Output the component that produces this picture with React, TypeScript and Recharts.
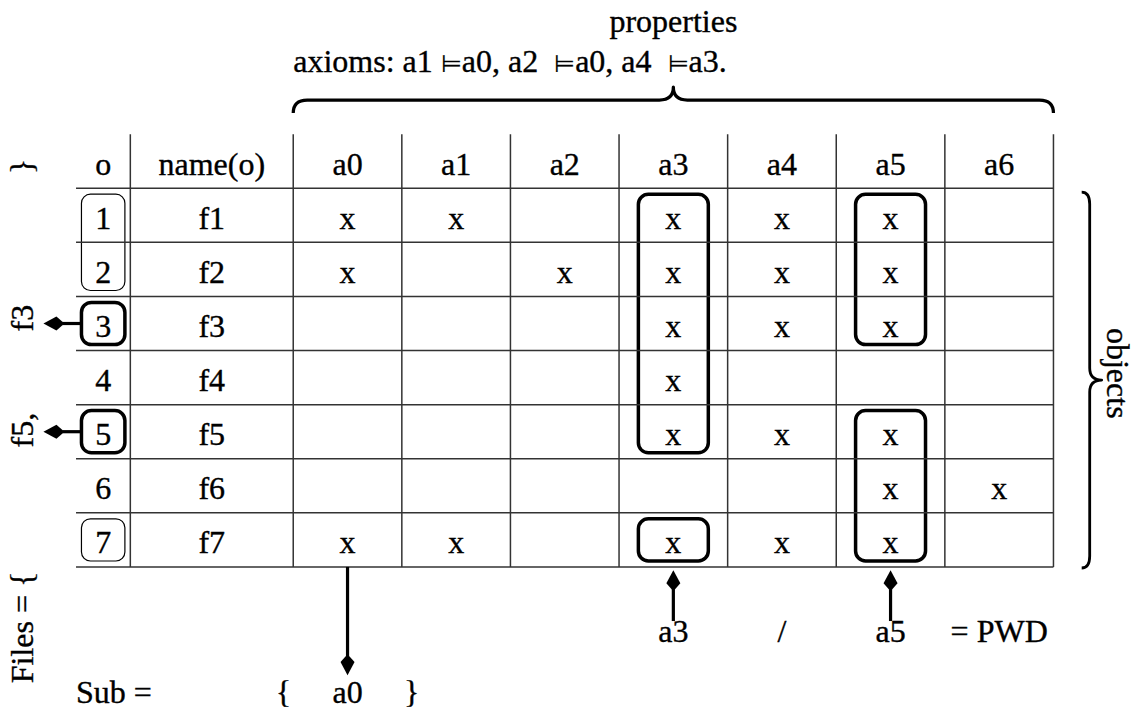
import React from 'react';
import { ScatterChart, Scatter, XAxis, YAxis, ReferenceLine, ReferenceArea } from 'recharts';

// Table content
const attributes = ['a0', 'a1', 'a2', 'a3', 'a4', 'a5', 'a6'];
const objectIds = ['1', '2', '3', '4', '5', '6', '7'];
const objectNames = ['f1', 'f2', 'f3', 'f4', 'f5', 'f6', 'f7'];
const headers = ['o', 'name(o)'];

// attributes held by each object (row order)
const incidence = [
  ['a0', 'a1', 'a3', 'a4', 'a5'],
  ['a0', 'a2', 'a3', 'a4', 'a5'],
  ['a3', 'a4', 'a5'],
  ['a3'],
  ['a3', 'a4', 'a5'],
  ['a5', 'a6'],
  ['a0', 'a1', 'a3', 'a4', 'a5'],
];

// rounded boxes
const objectGroups = [
  { from: 1, to: 2, bold: false },
  { from: 3, to: 3, bold: true },
  { from: 5, to: 5, bold: true },
  { from: 7, to: 7, bold: false },
];
const attributeGroups = [
  { attr: 'a3', from: 1, to: 5 },
  { attr: 'a3', from: 7, to: 7 },
  { attr: 'a5', from: 1, to: 3 },
  { attr: 'a5', from: 5, to: 7 },
];

// arrows
const pickedObjects = [3, 5];
const pwdAttributes = ['a3', 'a5'];
const subAttributes = ['a0'];

// free text around the table (x in column units, y in row units, baseline)
const annotations = [
  { text: 'properties', x: 5.5, y: -1.885, anchor: 'middle', rotate: 0 },
  { text: 'axioms: a1 \u22A8a0, a2 \u00A0\u22A8a0, a4 \u00A0\u22A8a3.', x: 2, y: -1.146, anchor: 'start', rotate: 0 },
  { text: 'objects', x: 9.49, y: 4.42, anchor: 'middle', rotate: 90 },
  { text: '}', x: -0.396, y: 0.6, anchor: 'middle', rotate: -90 },
  { text: 'f3', x: -0.396, y: 3.4, anchor: 'middle', rotate: -90 },
  { text: 'f5,', x: -0.396, y: 5.47, anchor: 'middle', rotate: -90 },
  { text: 'Files = {', x: -0.396, y: 9.12, anchor: 'middle', rotate: -90 },
  { text: 'a3', x: 5.5, y: 9.385, anchor: 'middle', rotate: 0 },
  { text: '/', x: 6.5, y: 9.385, anchor: 'middle', rotate: 0 },
  { text: 'a5', x: 7.5, y: 9.385, anchor: 'middle', rotate: 0 },
  { text: '= PWD', x: 8.5, y: 9.385, anchor: 'middle', rotate: 0 },
  { text: 'Sub =', x: 0, y: 10.52, anchor: 'start', rotate: 0 },
  { text: '{', x: 1.91, y: 10.52, anchor: 'middle', rotate: 0 },
  { text: 'a0', x: 2.5, y: 10.52, anchor: 'middle', rotate: 0 },
  { text: '}', x: 3.09, y: 10.52, anchor: 'middle', rotate: 0 },
];

const FONT = 'Liberation Serif, Times New Roman, Times, serif';
const FONT_SIZE = 32;
const GRID = '#333';

const colOf = (a: string) => 2.5 + attributes.indexOf(a);

const cells = [
  ...headers.map((h, i) => ({ x: i === 0 ? 0.25 : 1.25, y: 0.5, label: h })),
  ...attributes.map((a, i) => ({ x: 2.5 + i, y: 0.5, label: a })),
  ...objectIds.map((id, r) => ({ x: 0.25, y: r + 1.5, label: id })),
  ...objectNames.map((n, r) => ({ x: 1.25, y: r + 1.5, label: n })),
  ...incidence.flatMap((row, r) => row.map((a) => ({ x: colOf(a), y: r + 1.5, label: 'x' }))),
];

const rowLines = [1, 2, 3, 4, 5, 6, 7, 8];
const colLines = [0.5, 2, 3, 4, 5, 6, 7, 8, 9];

const textStyle = {
  fontSize: FONT_SIZE,
  fontFamily: FONT,
  fill: '#000',
  stroke: '#000',
  strokeWidth: 0.35,
};

const CellText = (props: any) => {
  const { cx, cy, payload } = props;
  return (
    <text x={cx} y={cy + 13.5} textAnchor="middle" {...textStyle}>
      {payload.label}
    </text>
  );
};

// the "models" symbol comes from a fallback font and is too wide, so shrink it
const withSmallSymbols = (s: string) =>
  s.split(/(\u22A8)/).map((part, i) =>
    part === '\u22A8' ? (
      <tspan key={i} fontSize={24} strokeWidth={0.2}>
        {part}
      </tspan>
    ) : (
      <tspan key={i}>{part}</tspan>
    ),
  );

const NoteText = (props: any) => {
  const { cx, cy, payload } = props;
  return (
    <text transform={`translate(${cx},${cy}) rotate(${payload.rotate})`} textAnchor={payload.anchor} {...textStyle}>
      {withSmallSymbols(payload.text)}
    </text>
  );
};

const roundBox = (width: number, radius: number) => (p: any) => (
  <rect x={p.x} y={p.y} width={p.width} height={p.height} rx={radius} ry={radius} fill="none" stroke="#000" strokeWidth={width} />
);

const Arrow = (p: any) => {
  const { x1, y1, x2, y2 } = p;
  const len = Math.hypot(x2 - x1, y2 - y1);
  const ux = (x2 - x1) / len;
  const uy = (y2 - y1) / len;
  const nx = -uy;
  const ny = ux;
  const L = 21;
  const W = 7;
  const bx = x2 - ux * L;
  const by = y2 - uy * L;
  const mx = x2 - ux * L * 0.62;
  const my = y2 - uy * L * 0.62;
  return (
    <g>
      <line x1={x1} y1={y1} x2={bx + ux * 2} y2={by + uy * 2} stroke="#000" strokeWidth={3.2} />
      <polygon
        points={`${x2},${y2} ${mx + nx * W},${my + ny * W} ${bx},${by} ${mx - nx * W},${my - ny * W}`}
        fill="#000"
      />
    </g>
  );
};

const brace = (spine: number, depth: number, hook: number, width: number) => (p: any) => {
  const { x1, y1, x2, y2 } = p;
  const len = Math.hypot(x2 - x1, y2 - y1);
  const ux = (x2 - x1) / len;
  const uy = (y2 - y1) / len;
  const nx = uy;
  const ny = -ux;
  const P = (t: number, o: number) => `${x1 + ux * t + nx * o},${y1 + uy * t + ny * o}`;
  const m = len / 2;
  const d = [
    `M${P(0, 0)}`,
    `Q${P(0, spine)} ${P(hook, spine)}`,
    `L${P(m - hook, spine)}`,
    `Q${P(m, spine)} ${P(m, depth)}`,
    `Q${P(m, spine)} ${P(m + hook, spine)}`,
    `L${P(len - hook, spine)}`,
    `Q${P(len, spine)} ${P(len, 0)}`,
  ].join(' ');
  return <path d={d} fill="none" stroke="#000" strokeWidth={width} strokeLinejoin="round" />;
};

export default function App() {
  return (
    <div style={{ width: 1136, height: 713, overflow: 'hidden', background: '#fff' }}>
      <style>{'body{margin:0;overflow:hidden;background:#fff}'}</style>
      <ScatterChart width={1136} height={713} margin={{ top: 0, right: 0, bottom: 0, left: 0 }}>
        <XAxis type="number" dataKey="x" domain={[-0.7, 9.76]} hide allowDataOverflow />
        <YAxis type="number" dataKey="y" domain={[-2.48, 10.7]} reversed hide allowDataOverflow />

        {rowLines.map((r) => (
          <ReferenceLine key={`h${r}`} segment={[{ x: 0, y: r }, { x: 9, y: r }]} stroke={GRID} strokeWidth={1.5} />
        ))}
        {colLines.map((c) => (
          <ReferenceLine key={`v${c}`} segment={[{ x: c, y: 0 }, { x: c, y: 8 }]} stroke={GRID} strokeWidth={1.5} />
        ))}

        {objectGroups.map((g) => (
          <ReferenceArea
            key={`og${g.from}`}
            x1={0.05}
            x2={0.45}
            y1={g.from + 0.11}
            y2={g.to + 0.89}
            shape={g.bold ? roundBox(3.5, 10) : roundBox(1.2, 9)}
          />
        ))}
        {attributeGroups.map((g) => (
          <ReferenceArea
            key={`ag${g.attr}${g.from}`}
            x1={colOf(g.attr) - 0.322}
            x2={colOf(g.attr) + 0.322}
            y1={g.from + 0.11}
            y2={g.to + 0.89}
            shape={roundBox(3.5, 10)}
          />
        ))}

        {pickedObjects.map((r) => (
          <ReferenceLine key={`po${r}`} segment={[{ x: 0.05, y: r + 0.5 }, { x: -0.3, y: r + 0.5 }]} shape={Arrow} />
        ))}
        {pwdAttributes.map((a) => (
          <ReferenceLine key={`pa${a}`} segment={[{ x: colOf(a), y: 9.0 }, { x: colOf(a), y: 8.06 }]} shape={Arrow} />
        ))}
        {subAttributes.map((a) => (
          <ReferenceLine key={`sa${a}`} segment={[{ x: colOf(a), y: 8.0 }, { x: colOf(a), y: 10.0 }]} shape={Arrow} />
        ))}

        <ReferenceLine segment={[{ x: 2, y: -0.39 }, { x: 9, y: -0.39 }]} shape={brace(13, 26, 14, 3.2)} />
        <ReferenceLine segment={[{ x: 9.26, y: 1.07 }, { x: 9.26, y: 8.02 }]} shape={brace(8, 20, 12, 2.8)} />

        <Scatter data={cells} shape={CellText} isAnimationActive={false} />
        <Scatter data={annotations} shape={NoteText} isAnimationActive={false} />
      </ScatterChart>
    </div>
  );
}
